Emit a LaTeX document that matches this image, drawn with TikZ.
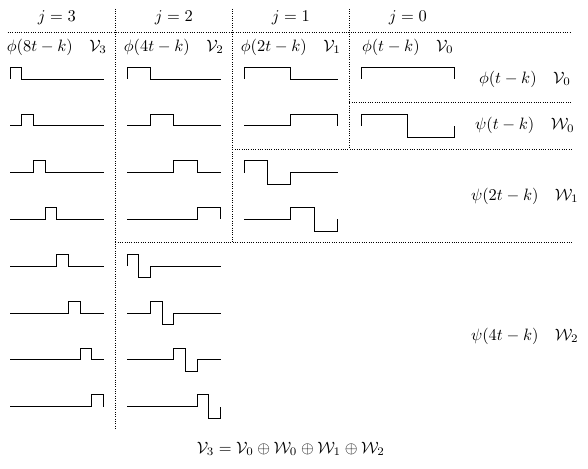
\documentclass[tikz,border=0pt]{standalone}
\usepackage{amsmath}
\usepackage{amssymb}
\usepackage{tikz}

\begin{document}
\begin{tikzpicture}[sig/.style={semithick}, sep/.style={densely dotted}]
\useasboundingbox (-0.214,-8.333) rectangle (12.35,1.688);
% separators
\draw[sep] (-0.05,1) -- (12,1);
\draw[sep] (2.25,1.5) -- (2.25,-7.5);
\draw[sep] (4.75,1.5) -- (4.75,-3.5);
\draw[sep] (7.25,1.5) -- (7.25,-1.5);
\draw[sep] (7.25,-0.5) -- (12,-0.5);
\draw[sep] (4.75,-1.5) -- (12,-1.5);
\draw[sep] (2.25,-3.5) -- (12,-3.5);
%
\node (hj3) at (1,1.32) {$j=3$};
\node (hj2) at (3.5,1.32) {$j=2$};
\node (hj1) at (6,1.32) {$j=1$};
\node (hj0) at (8.5,1.32) {$j=0$};
%
\node (lv3) at (1,0.68) {$\phi(8t-k)\quad\mathcal{V}_3$};
\node (lv2) at (3.5,0.68) {$\phi(4t-k)\quad\mathcal{V}_2$};
\node (lv1) at (6,0.68) {$\phi(2t-k)\quad\mathcal{V}_1$};
\node (lv0) at (8.5,0.68) {$\phi(t-k)\quad\mathcal{V}_0$};
%
% j=3
\draw[sig] (0,0) -- (0,.25) -- (.25,.25) -- (.25,0) -- (2,0);
\draw[sig] (0,-1) -- (.25,-1) -- (.25,-.75) -- (.5,-.75) -- (.5,-1) -- (2,-1);
\draw[sig] (0,-2) -- (.5,-2) -- (.5,-1.75) -- (.75,-1.75) -- (.75,-2) -- (2,-2);
\draw[sig] (0,-3) -- (.75,-3) -- (.75,-2.75) -- (1,-2.75) -- (1,-3) -- (2,-3);
\draw[sig] (0,-4) -- (1,-4) -- (1,-3.75) -- (1.25,-3.75) -- (1.25,-4) -- (2,-4);
\draw[sig] (0,-5) -- (1.25,-5) -- (1.25,-4.75) -- (1.5,-4.75) -- (1.5,-5) -- (2,-5);
\draw[sig] (0,-6) -- (1.5,-6) -- (1.5,-5.75) -- (1.75,-5.75) -- (1.75,-6) -- (2,-6);
\draw[sig] (0,-7) -- (1.75,-7) -- (1.75,-6.75) -- (2,-6.75) -- (2,-7);
%
% j=2
\draw[sig] (2.5,0) -- (2.5,.25) -- (3,.25) -- (3,0) -- (4.5,0);
\draw[sig] (2.5,-1) -- (3,-1) -- (3,-.75) -- (3.5,-.75) -- (3.5,-1) -- (4.5,-1);
\draw[sig] (2.5,-2) -- (3.5,-2) -- (3.5,-1.75) -- (4,-1.75) -- (4,-2) -- (4.5,-2);
\draw[sig] (2.5,-3) -- (4,-3) -- (4,-2.75) -- (4.5,-2.75) -- (4.5,-3);
\draw[sig] (2.5,-4) -- (2.5,-3.75) -- (2.75,-3.75) -- (2.75,-4.25) -- (3,-4.25) -- (3,-4) -- (4.5,-4);
\draw[sig] (2.5,-5) -- (3,-5) -- (3,-4.75) -- (3.25,-4.75) -- (3.25,-5.25) -- (3.5,-5.25) -- (3.5,-5) -- (4.5,-5);
\draw[sig] (2.5,-6) -- (3.5,-6) -- (3.5,-5.75) -- (3.75,-5.75) -- (3.75,-6.25) -- (4,-6.25) -- (4,-6) -- (4.5,-6);
\draw[sig] (2.5,-7) -- (4,-7) -- (4,-6.75) -- (4.25,-6.75) -- (4.25,-7.25) -- (4.5,-7.25) -- (4.5,-7);
%
% j=1
\draw[sig] (5,0) -- (5,.25) -- (6,.25) -- (6,0) -- (7,0);
\draw[sig] (5,-1) -- (6,-1) -- (6,-.75) -- (7,-.75) -- (7,-1);
\draw[sig] (5,-2) -- (5,-1.75) -- (5.5,-1.75) -- (5.5,-2.25) -- (6,-2.25) -- (6,-2) -- (7,-2);
\draw[sig] (5,-3) -- (6,-3) -- (6,-2.75) -- (6.5,-2.75) -- (6.5,-3.25) -- (7,-3.25) -- (7,-3);
%
% j=0
\draw[sig] (7.5,0) -- (7.5,.25) -- (9.5,.25) -- (9.5,0);
\draw[sig] (7.5,-1) -- (7.5,-.75) -- (8.5,-.75) -- (8.5,-1.25) -- (9.5,-1.25) -- (9.5,-1);
%
\node (rv0) at (11,0) {$\phi(t-k)\quad\mathcal{V}_0$};
\node (rw0) at (11,-1) {$\psi(t-k)\quad\mathcal{W}_0$};
\node (rw1) at (11,-2.5) {$\psi(2t-k)\quad\mathcal{W}_1$};
\node (rw2) at (11,-5.5) {$\psi(4t-k)\quad\mathcal{W}_2$};
%
\node (sum) at (6,-7.9) {$\mathcal{V}_3=\mathcal{V}_0\oplus\mathcal{W}_0\oplus\mathcal{W}_1\oplus\mathcal{W}_2$};
\end{tikzpicture}
\end{document}
